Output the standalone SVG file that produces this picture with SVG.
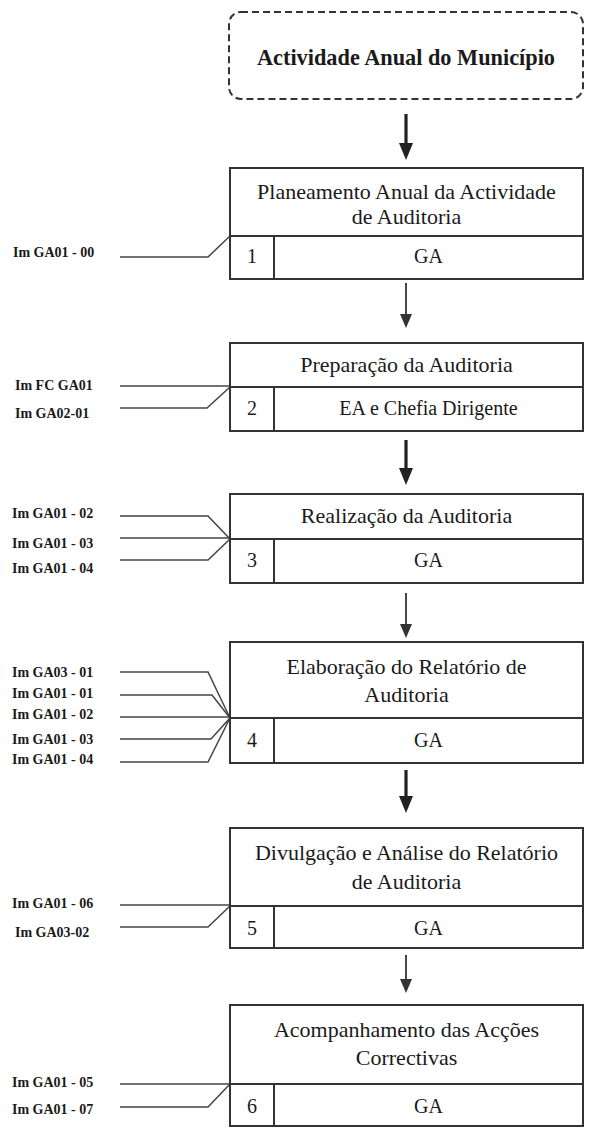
<svg xmlns="http://www.w3.org/2000/svg" width="589" height="1128" viewBox="0 0 589 1128">
<style>
text{font-family:"Liberation Serif","Times New Roman",serif;fill:#1a1a1a}
.hdr{font-size:22.3px;font-weight:bold;text-anchor:middle}
.ttl{font-size:22px;text-anchor:middle}
.row{font-size:20px;text-anchor:middle}
.lbl{font-size:14px;font-weight:bold}
.box{fill:#fff;stroke:#333;stroke-width:2}
.div{fill:none;stroke:#333;stroke-width:2}
.in{fill:none;stroke:#444;stroke-width:1.5}
.ak{stroke:#222;stroke-width:3.2;fill:none}
.an{stroke:#333;stroke-width:1.8;fill:none}
</style>
<defs>
<marker id="hk" viewBox="0 0 17 14" markerWidth="17" markerHeight="14" refX="0" refY="7" orient="auto" markerUnits="userSpaceOnUse"><path d="M0,0 L17,7 L0,14 z" fill="#222"/></marker>
<marker id="hn" viewBox="0 0 14 12" markerWidth="14" markerHeight="12" refX="0" refY="6" orient="auto" markerUnits="userSpaceOnUse"><path d="M0,0 L14,6 L0,12 z" fill="#333"/></marker>
</defs>

<g id="start">
<rect x="229" y="12" width="354" height="87" rx="12" ry="12" fill="#fff" stroke="#333" stroke-width="2" stroke-dasharray="7 4"/>
<text class="hdr" x="406" y="65">Actividade Anual do Município</text>
</g>

<g id="connectors">
<path class="ak" d="M406,114 V143" marker-end="url(#hk)"/>
<path class="an" d="M406,283 V314" marker-end="url(#hn)"/>
<path class="ak" d="M406,440 V468" marker-end="url(#hk)"/>
<path class="an" d="M406,593 V624" marker-end="url(#hn)"/>
<path class="ak" d="M406,770 V796" marker-end="url(#hk)"/>
<path class="an" d="M406,955 V979" marker-end="url(#hn)"/>
<path class="in" d="M120,257 H208 L230,236"/>
<path class="in" d="M120,386 H230"/>
<path class="in" d="M120,408 H207 L230,387"/>
<path class="in" d="M120,516 H208 L230,539"/>
<path class="in" d="M120,538 H230"/>
<path class="in" d="M120,560 H208 L230,539"/>
<path class="in" d="M120,672 H208 L230,718"/>
<path class="in" d="M120,695 H212 L230,718"/>
<path class="in" d="M120,717 H230"/>
<path class="in" d="M120,739 H211 L230,718"/>
<path class="in" d="M120,762 H208 L230,718"/>
<path class="in" d="M120,905 H230"/>
<path class="in" d="M120,927 H208 L230,906"/>
<path class="in" d="M120,1084 H230"/>
<path class="in" d="M120,1107 H208 L230,1084"/>
</g>

<g id="labels">
<text class="lbl" x="13" y="257">Im GA01 - 00</text>
<text class="lbl" x="15" y="390">Im FC GA01</text>
<text class="lbl" x="15" y="418">Im GA02-01</text>
<text class="lbl" x="12" y="518">Im GA01 - 02</text>
<text class="lbl" x="12" y="548">Im GA01 - 03</text>
<text class="lbl" x="12" y="573">Im GA01 - 04</text>
<text class="lbl" x="12" y="677">Im GA03 - 01</text>
<text class="lbl" x="12" y="698">Im GA01 - 01</text>
<text class="lbl" x="12" y="719">Im GA01 - 02</text>
<text class="lbl" x="12" y="744">Im GA01 - 03</text>
<text class="lbl" x="12" y="764">Im GA01 - 04</text>
<text class="lbl" x="12" y="908">Im GA01 - 06</text>
<text class="lbl" x="15" y="937">Im GA03-02</text>
<text class="lbl" x="12" y="1087">Im GA01 - 05</text>
<text class="lbl" x="12" y="1114">Im GA01 - 07</text>
</g>

<g id="step1">
<rect class="box" x="230" y="168" width="353" height="111"/>
<path class="div" d="M230,236 H583 M274,236 V279"/>
<text class="ttl" x="406.5" y="199">Planeamento Anual da Actividade</text>
<text class="ttl" x="406.5" y="224">de Auditoria</text>
<text class="row" x="252" y="263">1</text>
<text class="row" x="428.5" y="263">GA</text>
</g>

<g id="step2">
<rect class="box" x="230" y="343" width="353" height="88"/>
<path class="div" d="M230,387 H583 M274,387 V431"/>
<text class="ttl" x="406.5" y="372">Preparação da Auditoria</text>
<text class="row" x="252" y="415">2</text>
<text class="row" x="428.5" y="415">EA e Chefia Dirigente</text>
</g>

<g id="step3">
<rect class="box" x="230" y="494" width="353" height="89"/>
<path class="div" d="M230,539 H583 M274,539 V583"/>
<text class="ttl" x="406.5" y="523">Realização da Auditoria</text>
<text class="row" x="252" y="567">3</text>
<text class="row" x="428.5" y="567">GA</text>
</g>

<g id="step4">
<rect class="box" x="230" y="642" width="353" height="121"/>
<path class="div" d="M230,718 H583 M274,718 V763"/>
<text class="ttl" x="406.5" y="674">Elaboração do Relatório de</text>
<text class="ttl" x="406.5" y="702">Auditoria</text>
<text class="row" x="252" y="747">4</text>
<text class="row" x="428.5" y="747">GA</text>
</g>

<g id="step5">
<rect class="box" x="230" y="828" width="353" height="120"/>
<path class="div" d="M230,906 H583 M274,906 V948"/>
<text class="ttl" x="406.5" y="860">Divulgação e Análise do Relatório</text>
<text class="ttl" x="406.5" y="889">de Auditoria</text>
<text class="row" x="252" y="935">5</text>
<text class="row" x="428.5" y="935">GA</text>
</g>

<g id="step6">
<rect class="box" x="230" y="1005" width="353" height="121"/>
<path class="div" d="M230,1084 H583 M274,1084 V1126"/>
<text class="ttl" x="406.5" y="1037">Acompanhamento das Acções</text>
<text class="ttl" x="406.5" y="1065">Correctivas</text>
<text class="row" x="252" y="1113">6</text>
<text class="row" x="428.5" y="1113">GA</text>
</g>
</svg>
